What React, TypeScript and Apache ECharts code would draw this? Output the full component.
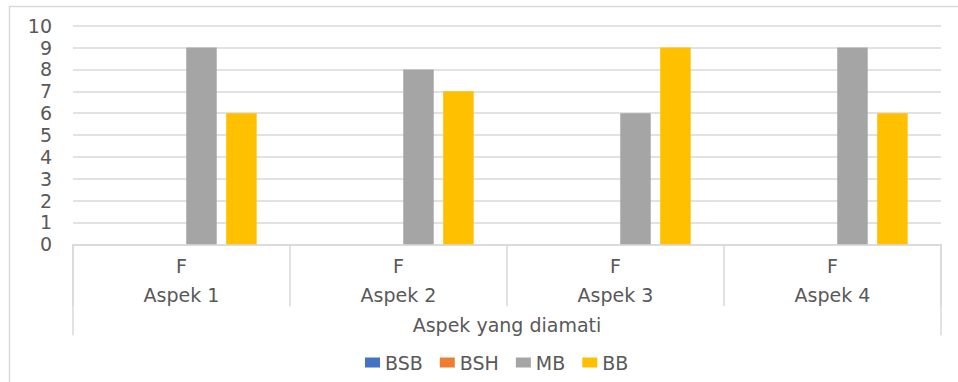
import React, { useEffect, useRef } from "react";
import * as echarts from "echarts";

const innerCategories = ["F", "F", "F", "F"];
const outerCategories = ["Aspek 1", "Aspek 2", "Aspek 3", "Aspek 4"];
const axisTitle = ["Aspek yang diamati"];
const seriesNames = ["BSB", "BSH", "MB", "BB"];
const seriesColors = ["#4472C4", "#ED7D31", "#A5A5A5", "#FFC000"];
const bsb = [0, 0, 0, 0];
const bsh = [0, 0, 0, 0];
const mb = [9, 8, 6, 9];
const bb = [6, 7, 9, 6];
const seriesValues = [bsb, bsh, mb, bb];

const FONT = "DejaVu Sans";
const TEXT_COLOR = "#595959";
const LINE_COLOR = "#D9D9D9";

export default function App() {
  const ref = useRef<HTMLDivElement>(null);

  useEffect(() => {
    if (!ref.current) return;
    const chart = echarts.init(ref.current, null, { renderer: "svg" });
    const labelBase = {
      color: TEXT_COLOR,
      fontFamily: FONT,
      fontSize: 19,
      interval: 0,
    };
    chart.setOption({
      animation: false,
      backgroundColor: "#FFFFFF",
      graphic: [
        {
          type: "rect",
          shape: { x: 9.5, y: 6.5, width: 1000, height: 400 },
          style: { fill: "none", stroke: LINE_COLOR, lineWidth: 1.5 },
          silent: true,
        },
      ],
      grid: {
        left: 73,
        right: 17,
        top: 25.7,
        bottom: 137.7,
        containLabel: false,
        outerBoundsMode: "none",
      },
      legend: {
        left: 360,
        top: 348,
        itemWidth: 15,
        itemHeight: 10,
        itemGap: 17,
        icon: "rect",
        textStyle: { color: TEXT_COLOR, fontFamily: FONT, fontSize: 19 },
        data: seriesNames,
      },
      xAxis: [
        {
          type: "category",
          data: innerCategories,
          position: "bottom",
          axisLine: { show: true, lineStyle: { color: LINE_COLOR, width: 1.5 } },
          axisTick: {
            show: true,
            length: 62,
            interval: 0,
            lineStyle: { color: LINE_COLOR, width: 1.5 },
          },
          axisLabel: { ...labelBase, margin: 12 },
        },
        {
          type: "category",
          data: outerCategories,
          position: "bottom",
          axisLine: { show: false },
          axisTick: { show: false },
          axisLabel: { ...labelBase, margin: 41 },
        },
        {
          type: "category",
          data: axisTitle,
          position: "bottom",
          axisLine: { show: false },
          axisTick: {
            show: true,
            length: 91,
            interval: 0,
            lineStyle: { color: LINE_COLOR, width: 1.5 },
          },
          axisLabel: { ...labelBase, margin: 71 },
        },
      ],
      yAxis: {
        type: "value",
        min: 0,
        max: 10,
        interval: 1,
        axisLine: { show: false },
        axisTick: { show: false },
        axisLabel: { ...labelBase, margin: 21 },
        splitLine: { lineStyle: { color: LINE_COLOR, width: 1.5 } },
      },
      series: seriesNames.map((name, i) => ({
        name,
        type: "bar",
        xAxisIndex: 0,
        data: seriesValues[i],
        barWidth: 30.5,
        barGap: "31%",
        itemStyle: { color: seriesColors[i] },
      })),
    });
    return () => chart.dispose();
  }, []);

  return (
    <div
      ref={ref}
      style={{ position: "fixed", left: 0, top: 0, width: 958, height: 382 }}
    />
  );
}
